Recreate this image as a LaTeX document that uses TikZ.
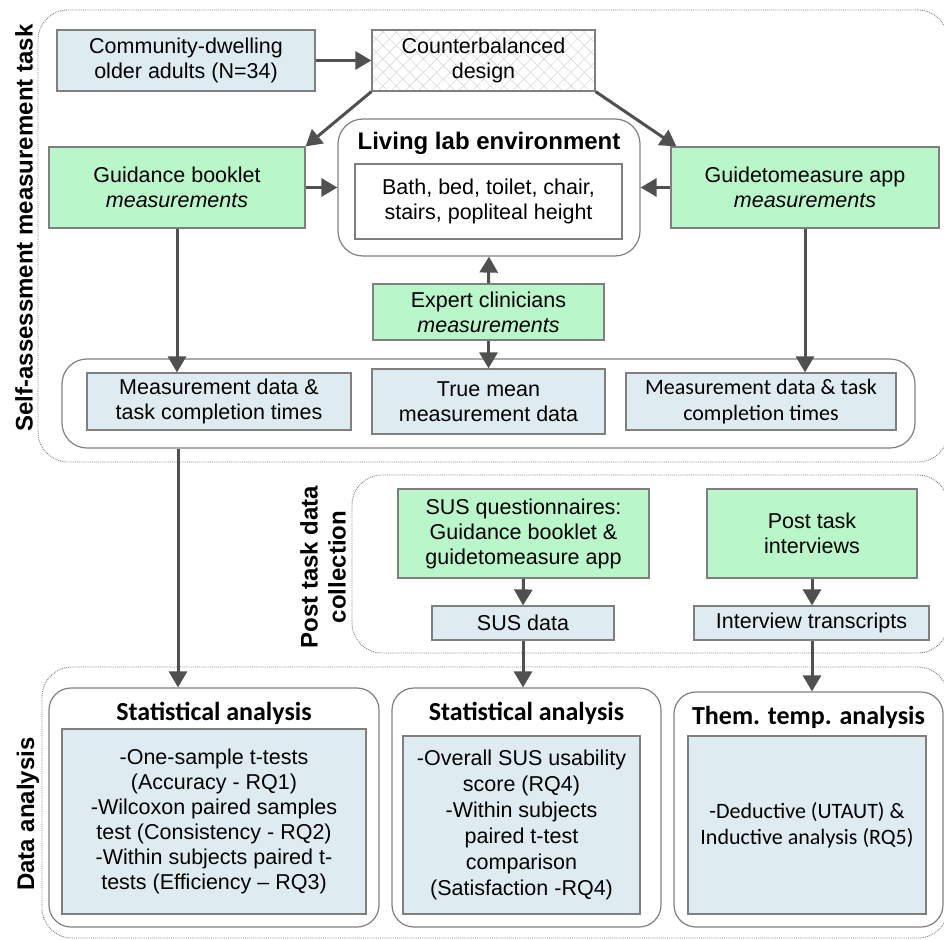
\documentclass[tikz,border=0pt]{standalone}
\usepackage{fontspec}
\setmainfont{Liberation Sans}
\newfontfamily\calfont{Carlito}
\usetikzlibrary{arrows.meta,patterns,patterns.meta,calc}
\definecolor{boxblue}{HTML}{DEECF2}
\definecolor{boxgreen}{HTML}{B9F6CA}
\definecolor{edgegray}{HTML}{7F7F7F}
\definecolor{arrowgray}{HTML}{505050}
\definecolor{hatchgray}{HTML}{D8D8D8}
\begin{document}
\begin{tikzpicture}[x=1pt,y=-1pt,
  base/.style={draw=edgegray,line width=1.2pt,inner sep=0pt,align=center,font=\fontsize{21.5}{25}\selectfont},
  bluebox/.style={base,fill=boxblue},
  greenbox/.style={base,fill=boxgreen},
  whitebox/.style={base,fill=white},
  calibri/.style={font=\calfont\fontsize{22}{26}\selectfont},
  roundbox/.style={draw=edgegray,line width=1.2pt,rounded corners=25pt,inner sep=0pt},
  sectionbox/.style={draw=gray,densely dotted,line width=0.9pt,rounded corners=30pt,inner sep=0pt},
  seclabel/.style={rotate=90,align=center,font=\bfseries\fontsize{24}{28}\selectfont},
  boxtitle/.style={font=\bfseries\fontsize{24}{28}\selectfont},
  caltitle/.style={font=\calfont\bfseries\fontsize{26}{30}\selectfont},
  arr/.style={draw=arrowgray,line width=3pt,-{Triangle[length=16pt,width=18pt]}},
  hatch/.style={base,
    preaction={pattern={Lines[angle=45,distance=9.5pt,line width=0.6pt]},pattern color=hatchgray},
    preaction={pattern={Lines[angle=-45,distance=9.5pt,line width=0.6pt]},pattern color=hatchgray}},
]
\useasboundingbox (0,0) rectangle (944,939);

% sections
\node[sectionbox,minimum width=910,minimum height=452] (sec1) at (493,236) {};
\node[sectionbox,minimum width=596,minimum height=178] (sec2) at (650,564) {};
\node[sectionbox,minimum width=906,minimum height=271] (sec3) at (495,802.5) {};

\node[seclabel] (lab1) at (24,228) {Self-assessment measurement task};
\node[seclabel] (lab2) at (323,567) {Post task data\\collection};
\node[seclabel] (lab3) at (28,814) {Data analysis};

% rounded containers
\node[roundbox,minimum width=302,minimum height=137] (living) at (489,187.5) {};
\node[boxtitle] (livingtitle) at (489,143) {Living lab environment};
\node[roundbox,minimum width=853,minimum height=89] (meascont) at (488.5,403.5) {};

\node[roundbox,rounded corners=22pt,minimum width=330,minimum height=239] (sa1) at (214,807.5) {};
\node[caltitle] (sa1title) at (214,713) {Statistical analysis};
\node[roundbox,rounded corners=22pt,minimum width=269,minimum height=239] (sa2) at (526.5,807.5) {};
\node[caltitle] (sa2title) at (526.5,713) {Statistical analysis};
\node[roundbox,rounded corners=22pt,minimum width=269,minimum height=235] (th) at (808.5,809.5) {};
\node[caltitle] (thtitle) at (808.5,717) {Them. temp. analysis};

% top nodes
\node[bluebox,minimum width=258,minimum height=61] (comm) at (186,60.5) {Community-dwelling\\older adults (N=34)};
\node[hatch,minimum width=223,minimum height=61] (counter) at (483.5,60.5) {Counterbalanced\\design};
\node[greenbox,minimum width=256,minimum height=81] (guide) at (177,187.5) {Guidance booklet\\\textit{measurements}};
\node[whitebox,minimum width=267,minimum height=75] (items) at (488.5,201.5) {Bath, bed, toilet, chair,\\stairs, popliteal height};
\node[greenbox,minimum width=268,minimum height=81] (app) at (805,187.5) {Guidetomeasure app\\\textit{measurements}};
\node[greenbox,minimum width=231,minimum height=56] (expert) at (488.5,312) {Expert clinicians\\\textit{measurements}};

\node[bluebox,minimum width=264,minimum height=57] (measL) at (219,401.5) {Measurement data \&\\task completion times};
\node[bluebox,minimum width=233,minimum height=65] (truemean) at (488.5,401.5) {True mean\\measurement data};
\node[bluebox,calibri,minimum width=270,minimum height=57] (measR) at (761,401.5) {Measurement data \& task\\completion times};

% post task
\node[greenbox,minimum width=251,minimum height=89] (sus) at (523.5,533.5) {SUS questionnaires:\\Guidance booklet \&\\guidetomeasure app};
\node[bluebox,minimum width=182,minimum height=34] (susdata) at (523,623) {SUS data};
\node[greenbox,minimum width=210,minimum height=89] (pti) at (812,533.5) {Post task\\interviews};
\node[bluebox,minimum width=235,minimum height=34] (transcripts) at (811.5,623) {Interview transcripts};

% analysis
\node[bluebox,minimum width=304,minimum height=185] (sa1in) at (214,821.5) {-One-sample t-tests\\(Accuracy - RQ1)\\-Wilcoxon paired samples\\test (Consistency - RQ2)\\-Within subjects paired t-\\tests (Efficiency -- RQ3)};
\node[bluebox,font=\fontsize{21.5}{26}\selectfont,minimum width=237,minimum height=178] (sa2in) at (521.5,825) {-Overall SUS usability\\score (RQ4)\\-Within subjects\\paired t-test\\comparison\\(Satisfaction -RQ4)};
\node[bluebox,calibri,minimum width=238,minimum height=178] (thin) at (807,825) {-Deductive (UTAUT) \&\\Inductive analysis (RQ5)};

% arrows
\draw[arr] (comm.east) -- (counter.west);
\draw[arr] (counter.south west) -- (guide.north east);
\draw[arr] (counter.south east) -- ($(app.north west)+(6,0)$);
\draw[arr] (guide.east) -- (living.west);
\draw[arr] (app.west) -- (living.east);
\draw[arr] (expert.north) -- (living.south);
\draw[arr] (expert.south) -- (truemean.north);
\draw[arr] (guide.south) -- (guide.south |- measL.north);
\draw[arr] (app.south) -- (app.south |- measR.north);
\draw[arr] ($(guide.south |- meascont.south)+(1,0)$) -- ($(guide.south |- sa1.north)+(1,0)$);
\draw[arr] (sus.south) -- (susdata.north);
\draw[arr] (susdata.south) -- (susdata.south |- sa2.north);
\draw[arr] (pti.south) -- (pti.south |- transcripts.north);
\draw[arr] (pti.south |- transcripts.south) -- (pti.south |- th.north);
\end{tikzpicture}
\end{document}
